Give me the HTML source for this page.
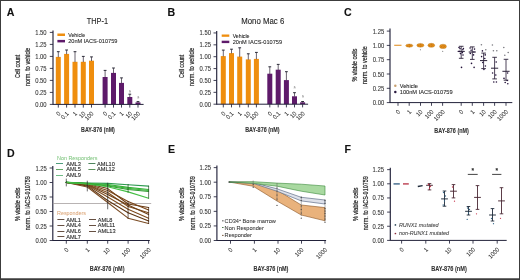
<!DOCTYPE html>
<html><head><meta charset="utf-8"><style>
html,body{margin:0;padding:0;background:#fff;}
#f{position:relative;width:520px;height:280px;overflow:hidden;background:#fff;}
svg{position:absolute;left:0;top:0;will-change:transform;filter:blur(0.25px);}
svg text{font-family:"Liberation Sans", sans-serif;}
</style></head><body><div id="f">
<svg width="520" height="280" viewBox="0 0 520 280">
<rect x="0" y="0" width="520" height="280" fill="#fff"/>
<text x="6.70" y="15.90" font-size="10.6" text-anchor="start" font-weight="bold" fill="#111" stroke="#111" stroke-width="0.1">A</text>
<text x="97.45" y="23.75" font-size="8.3" text-anchor="middle" font-weight="normal" fill="#262626" stroke="#262626" stroke-width="0.12" textLength="21.3" lengthAdjust="spacingAndGlyphs">THP-1</text>
<line x1="53.00" y1="30.40" x2="53.00" y2="104.85" stroke="#22223a" stroke-width="1.15"/>
<line x1="49.80" y1="104.40" x2="53.00" y2="104.40" stroke="#22223a" stroke-width="0.85"/>
<text x="46.60" y="106.90" font-size="6.5" text-anchor="end" font-weight="normal" fill="#333" stroke="#333" stroke-width="0.08" textLength="11.39" lengthAdjust="spacingAndGlyphs">0.00</text>
<line x1="49.80" y1="92.40" x2="53.00" y2="92.40" stroke="#22223a" stroke-width="0.85"/>
<text x="46.60" y="94.90" font-size="6.5" text-anchor="end" font-weight="normal" fill="#333" stroke="#333" stroke-width="0.08" textLength="11.39" lengthAdjust="spacingAndGlyphs">0.25</text>
<line x1="49.80" y1="80.40" x2="53.00" y2="80.40" stroke="#22223a" stroke-width="0.85"/>
<text x="46.60" y="82.90" font-size="6.5" text-anchor="end" font-weight="normal" fill="#333" stroke="#333" stroke-width="0.08" textLength="11.39" lengthAdjust="spacingAndGlyphs">0.50</text>
<line x1="49.80" y1="68.40" x2="53.00" y2="68.40" stroke="#22223a" stroke-width="0.85"/>
<text x="46.60" y="70.90" font-size="6.5" text-anchor="end" font-weight="normal" fill="#333" stroke="#333" stroke-width="0.08" textLength="11.39" lengthAdjust="spacingAndGlyphs">0.75</text>
<line x1="49.80" y1="56.40" x2="53.00" y2="56.40" stroke="#22223a" stroke-width="0.85"/>
<text x="46.60" y="58.90" font-size="6.5" text-anchor="end" font-weight="normal" fill="#333" stroke="#333" stroke-width="0.08" textLength="11.39" lengthAdjust="spacingAndGlyphs">1.00</text>
<line x1="49.80" y1="44.40" x2="53.00" y2="44.40" stroke="#22223a" stroke-width="0.85"/>
<text x="46.60" y="46.90" font-size="6.5" text-anchor="end" font-weight="normal" fill="#333" stroke="#333" stroke-width="0.08" textLength="11.39" lengthAdjust="spacingAndGlyphs">1.25</text>
<line x1="49.80" y1="32.40" x2="53.00" y2="32.40" stroke="#22223a" stroke-width="0.85"/>
<text x="46.60" y="34.90" font-size="6.5" text-anchor="end" font-weight="normal" fill="#333" stroke="#333" stroke-width="0.08" textLength="11.39" lengthAdjust="spacingAndGlyphs">1.50</text>
<rect x="55.80" y="56.90" width="5.00" height="47.50" fill="#EF8E0E"/>
<line x1="58.30" y1="51.70" x2="58.30" y2="57.20" stroke="#3a3040" stroke-width="0.75"/>
<line x1="56.90" y1="51.70" x2="59.70" y2="51.70" stroke="#2c2c38" stroke-width="1.0"/>
<rect x="64.10" y="53.90" width="5.00" height="50.50" fill="#EF8E0E"/>
<line x1="66.60" y1="50.00" x2="66.60" y2="54.20" stroke="#3a3040" stroke-width="0.75"/>
<line x1="65.20" y1="50.00" x2="68.00" y2="50.00" stroke="#2c2c38" stroke-width="1.0"/>
<rect x="72.50" y="61.80" width="5.00" height="42.60" fill="#EF8E0E"/>
<line x1="75.00" y1="51.70" x2="75.00" y2="62.10" stroke="#3a3040" stroke-width="0.75"/>
<line x1="73.60" y1="51.70" x2="76.40" y2="51.70" stroke="#2c2c38" stroke-width="1.0"/>
<rect x="80.80" y="61.80" width="5.00" height="42.60" fill="#EF8E0E"/>
<line x1="83.30" y1="56.40" x2="83.30" y2="62.10" stroke="#3a3040" stroke-width="0.75"/>
<line x1="81.90" y1="56.40" x2="84.70" y2="56.40" stroke="#2c2c38" stroke-width="1.0"/>
<rect x="89.00" y="60.70" width="5.00" height="43.70" fill="#EF8E0E"/>
<line x1="91.50" y1="56.90" x2="91.50" y2="61.00" stroke="#3a3040" stroke-width="0.75"/>
<line x1="90.10" y1="56.90" x2="92.90" y2="56.90" stroke="#2c2c38" stroke-width="1.0"/>
<rect x="102.60" y="77.00" width="5.00" height="27.40" fill="#5E1A6A"/>
<line x1="105.10" y1="70.40" x2="105.10" y2="77.30" stroke="#3a3040" stroke-width="0.75"/>
<line x1="103.70" y1="70.40" x2="106.50" y2="70.40" stroke="#2c2c38" stroke-width="1.0"/>
<rect x="111.00" y="72.90" width="5.00" height="31.50" fill="#5E1A6A"/>
<line x1="113.50" y1="68.00" x2="113.50" y2="73.20" stroke="#3a3040" stroke-width="0.75"/>
<line x1="112.10" y1="68.00" x2="114.90" y2="68.00" stroke="#2c2c38" stroke-width="1.0"/>
<rect x="119.00" y="82.90" width="5.00" height="21.50" fill="#5E1A6A"/>
<line x1="121.50" y1="77.90" x2="121.50" y2="83.20" stroke="#3a3040" stroke-width="0.75"/>
<line x1="120.10" y1="77.90" x2="122.90" y2="77.90" stroke="#2c2c38" stroke-width="1.0"/>
<rect x="127.30" y="97.00" width="5.00" height="7.40" fill="#5E1A6A"/>
<line x1="129.80" y1="94.20" x2="129.80" y2="97.30" stroke="#3a3040" stroke-width="0.75"/>
<line x1="128.40" y1="94.20" x2="131.20" y2="94.20" stroke="#2c2c38" stroke-width="1.0"/>
<rect x="135.50" y="102.40" width="5.00" height="2.00" fill="#5E1A6A"/>
<line x1="138.00" y1="101.60" x2="138.00" y2="102.70" stroke="#3a3040" stroke-width="0.75"/>
<line x1="136.60" y1="101.60" x2="139.40" y2="101.60" stroke="#2c2c38" stroke-width="1.0"/>
<line x1="53.00" y1="104.40" x2="143.60" y2="104.40" stroke="#22223a" stroke-width="1.0"/>
<line x1="58.30" y1="104.40" x2="58.30" y2="107.60" stroke="#22223a" stroke-width="0.85"/>
<text x="60.90" y="114.10" font-size="6.1" text-anchor="end" font-weight="normal" fill="#2a2a2a" stroke="#2a2a2a" stroke-width="0.04" transform="rotate(-45 60.90 114.10)" textLength="3.17" lengthAdjust="spacingAndGlyphs">0</text>
<line x1="66.60" y1="104.40" x2="66.60" y2="107.60" stroke="#22223a" stroke-width="0.85"/>
<text x="69.20" y="114.10" font-size="6.1" text-anchor="end" font-weight="normal" fill="#2a2a2a" stroke="#2a2a2a" stroke-width="0.04" transform="rotate(-45 69.20 114.10)" textLength="7.92" lengthAdjust="spacingAndGlyphs">0.1</text>
<line x1="75.00" y1="104.40" x2="75.00" y2="107.60" stroke="#22223a" stroke-width="0.85"/>
<text x="77.60" y="114.10" font-size="6.1" text-anchor="end" font-weight="normal" fill="#2a2a2a" stroke="#2a2a2a" stroke-width="0.04" transform="rotate(-45 77.60 114.10)" textLength="3.17" lengthAdjust="spacingAndGlyphs">1</text>
<line x1="83.30" y1="104.40" x2="83.30" y2="107.60" stroke="#22223a" stroke-width="0.85"/>
<text x="85.90" y="114.10" font-size="6.1" text-anchor="end" font-weight="normal" fill="#2a2a2a" stroke="#2a2a2a" stroke-width="0.04" transform="rotate(-45 85.90 114.10)" textLength="6.34" lengthAdjust="spacingAndGlyphs">10</text>
<line x1="91.50" y1="104.40" x2="91.50" y2="107.60" stroke="#22223a" stroke-width="0.85"/>
<text x="94.10" y="114.10" font-size="6.1" text-anchor="end" font-weight="normal" fill="#2a2a2a" stroke="#2a2a2a" stroke-width="0.04" transform="rotate(-45 94.10 114.10)" textLength="9.51" lengthAdjust="spacingAndGlyphs">100</text>
<line x1="105.10" y1="104.40" x2="105.10" y2="107.60" stroke="#22223a" stroke-width="0.85"/>
<text x="107.70" y="114.10" font-size="6.1" text-anchor="end" font-weight="normal" fill="#2a2a2a" stroke="#2a2a2a" stroke-width="0.04" transform="rotate(-45 107.70 114.10)" textLength="3.17" lengthAdjust="spacingAndGlyphs">0</text>
<line x1="113.50" y1="104.40" x2="113.50" y2="107.60" stroke="#22223a" stroke-width="0.85"/>
<text x="116.10" y="114.10" font-size="6.1" text-anchor="end" font-weight="normal" fill="#2a2a2a" stroke="#2a2a2a" stroke-width="0.04" transform="rotate(-45 116.10 114.10)" textLength="7.92" lengthAdjust="spacingAndGlyphs">0.1</text>
<line x1="121.50" y1="104.40" x2="121.50" y2="107.60" stroke="#22223a" stroke-width="0.85"/>
<text x="124.10" y="114.10" font-size="6.1" text-anchor="end" font-weight="normal" fill="#2a2a2a" stroke="#2a2a2a" stroke-width="0.04" transform="rotate(-45 124.10 114.10)" textLength="3.17" lengthAdjust="spacingAndGlyphs">1</text>
<line x1="129.80" y1="104.40" x2="129.80" y2="107.60" stroke="#22223a" stroke-width="0.85"/>
<text x="132.40" y="114.10" font-size="6.1" text-anchor="end" font-weight="normal" fill="#2a2a2a" stroke="#2a2a2a" stroke-width="0.04" transform="rotate(-45 132.40 114.10)" textLength="6.34" lengthAdjust="spacingAndGlyphs">10</text>
<line x1="138.00" y1="104.40" x2="138.00" y2="107.60" stroke="#22223a" stroke-width="0.85"/>
<text x="140.60" y="114.10" font-size="6.1" text-anchor="end" font-weight="normal" fill="#2a2a2a" stroke="#2a2a2a" stroke-width="0.04" transform="rotate(-45 140.60 114.10)" textLength="9.51" lengthAdjust="spacingAndGlyphs">100</text>
<text x="129.90" y="92.60" font-size="3.8" text-anchor="middle" font-weight="normal" fill="#777">§</text>
<text x="138.30" y="98.60" font-size="3.8" text-anchor="middle" font-weight="normal" fill="#777">§</text>
<rect x="57.40" y="33.50" width="7.60" height="2.50" fill="#EF8E0E"/>
<rect x="57.40" y="39.90" width="7.60" height="2.50" fill="#5E1A6A"/>
<text x="68.20" y="36.90" font-size="5.3" text-anchor="start" font-weight="normal" fill="#262626" stroke="#262626" stroke-width="0.08">Vehicle</text>
<text x="68.20" y="43.00" font-size="5.3" text-anchor="start" font-weight="normal" fill="#262626" stroke="#262626" stroke-width="0.08" textLength="49.2" lengthAdjust="spacingAndGlyphs">20nM IACS-010759</text>
<text x="20.00" y="66.45" font-size="7.2" text-anchor="middle" font-weight="normal" fill="#262626" stroke="#262626" stroke-width="0.22" transform="rotate(-90 20.00 66.45)" textLength="23.3" lengthAdjust="spacingAndGlyphs">Cell count</text>
<text x="29.90" y="66.85" font-size="7.2" text-anchor="middle" font-weight="normal" fill="#262626" stroke="#262626" stroke-width="0.22" transform="rotate(-90 29.90 66.85)" textLength="38.5" lengthAdjust="spacingAndGlyphs">norm. to vehicle</text>
<text x="98.00" y="132.20" font-size="6.9" text-anchor="middle" font-weight="bold" fill="#333" stroke="#333" stroke-width="0.1" textLength="33.8" lengthAdjust="spacingAndGlyphs">BAY-876 (nM)</text>
<text x="167.40" y="15.90" font-size="10.6" text-anchor="start" font-weight="bold" fill="#111" stroke="#111" stroke-width="0.1">B</text>
<text x="262.75" y="24.30" font-size="8.3" text-anchor="middle" font-weight="normal" fill="#262626" stroke="#262626" stroke-width="0.12" textLength="43.0" lengthAdjust="spacingAndGlyphs">Mono Mac 6</text>
<line x1="216.70" y1="30.95" x2="216.70" y2="104.65" stroke="#22223a" stroke-width="1.15"/>
<line x1="213.50" y1="104.20" x2="216.70" y2="104.20" stroke="#22223a" stroke-width="0.85"/>
<text x="210.90" y="106.70" font-size="6.5" text-anchor="end" font-weight="normal" fill="#333" stroke="#333" stroke-width="0.08" textLength="11.39" lengthAdjust="spacingAndGlyphs">0.00</text>
<line x1="213.50" y1="92.33" x2="216.70" y2="92.33" stroke="#22223a" stroke-width="0.85"/>
<text x="210.90" y="94.83" font-size="6.5" text-anchor="end" font-weight="normal" fill="#333" stroke="#333" stroke-width="0.08" textLength="11.39" lengthAdjust="spacingAndGlyphs">0.25</text>
<line x1="213.50" y1="80.45" x2="216.70" y2="80.45" stroke="#22223a" stroke-width="0.85"/>
<text x="210.90" y="82.95" font-size="6.5" text-anchor="end" font-weight="normal" fill="#333" stroke="#333" stroke-width="0.08" textLength="11.39" lengthAdjust="spacingAndGlyphs">0.50</text>
<line x1="213.50" y1="68.58" x2="216.70" y2="68.58" stroke="#22223a" stroke-width="0.85"/>
<text x="210.90" y="71.08" font-size="6.5" text-anchor="end" font-weight="normal" fill="#333" stroke="#333" stroke-width="0.08" textLength="11.39" lengthAdjust="spacingAndGlyphs">0.75</text>
<line x1="213.50" y1="56.70" x2="216.70" y2="56.70" stroke="#22223a" stroke-width="0.85"/>
<text x="210.90" y="59.20" font-size="6.5" text-anchor="end" font-weight="normal" fill="#333" stroke="#333" stroke-width="0.08" textLength="11.39" lengthAdjust="spacingAndGlyphs">1.00</text>
<line x1="213.50" y1="44.83" x2="216.70" y2="44.83" stroke="#22223a" stroke-width="0.85"/>
<text x="210.90" y="47.33" font-size="6.5" text-anchor="end" font-weight="normal" fill="#333" stroke="#333" stroke-width="0.08" textLength="11.39" lengthAdjust="spacingAndGlyphs">1.25</text>
<line x1="213.50" y1="32.95" x2="216.70" y2="32.95" stroke="#22223a" stroke-width="0.85"/>
<text x="210.90" y="35.45" font-size="6.5" text-anchor="end" font-weight="normal" fill="#333" stroke="#333" stroke-width="0.08" textLength="11.39" lengthAdjust="spacingAndGlyphs">1.50</text>
<rect x="220.80" y="56.10" width="5.00" height="48.10" fill="#EF8E0E"/>
<line x1="223.30" y1="50.10" x2="223.30" y2="56.40" stroke="#3a3040" stroke-width="0.75"/>
<line x1="221.90" y1="50.10" x2="224.70" y2="50.10" stroke="#2c2c38" stroke-width="1.0"/>
<rect x="229.00" y="53.10" width="5.00" height="51.10" fill="#EF8E0E"/>
<line x1="231.50" y1="49.20" x2="231.50" y2="53.40" stroke="#3a3040" stroke-width="0.75"/>
<line x1="230.10" y1="49.20" x2="232.90" y2="49.20" stroke="#2c2c38" stroke-width="1.0"/>
<rect x="237.20" y="56.60" width="5.00" height="47.60" fill="#EF8E0E"/>
<line x1="239.70" y1="47.80" x2="239.70" y2="56.90" stroke="#3a3040" stroke-width="0.75"/>
<line x1="238.30" y1="47.80" x2="241.10" y2="47.80" stroke="#2c2c38" stroke-width="1.0"/>
<rect x="245.80" y="59.40" width="5.00" height="44.80" fill="#EF8E0E"/>
<line x1="248.30" y1="53.80" x2="248.30" y2="59.70" stroke="#3a3040" stroke-width="0.75"/>
<line x1="246.90" y1="53.80" x2="249.70" y2="53.80" stroke="#2c2c38" stroke-width="1.0"/>
<rect x="253.90" y="58.90" width="5.00" height="45.30" fill="#EF8E0E"/>
<line x1="256.40" y1="52.40" x2="256.40" y2="59.20" stroke="#3a3040" stroke-width="0.75"/>
<line x1="255.00" y1="52.40" x2="257.80" y2="52.40" stroke="#2c2c38" stroke-width="1.0"/>
<rect x="267.30" y="73.70" width="5.00" height="30.50" fill="#5E1A6A"/>
<line x1="269.80" y1="66.80" x2="269.80" y2="74.00" stroke="#3a3040" stroke-width="0.75"/>
<line x1="268.40" y1="66.80" x2="271.20" y2="66.80" stroke="#2c2c38" stroke-width="1.0"/>
<rect x="275.70" y="69.70" width="5.00" height="34.50" fill="#5E1A6A"/>
<line x1="278.20" y1="64.40" x2="278.20" y2="70.00" stroke="#3a3040" stroke-width="0.75"/>
<line x1="276.80" y1="64.40" x2="279.60" y2="64.40" stroke="#2c2c38" stroke-width="1.0"/>
<rect x="283.90" y="80.10" width="5.00" height="24.10" fill="#5E1A6A"/>
<line x1="286.40" y1="71.70" x2="286.40" y2="80.40" stroke="#3a3040" stroke-width="0.75"/>
<line x1="285.00" y1="71.70" x2="287.80" y2="71.70" stroke="#2c2c38" stroke-width="1.0"/>
<rect x="292.00" y="96.30" width="5.00" height="7.90" fill="#5E1A6A"/>
<line x1="294.50" y1="92.70" x2="294.50" y2="96.60" stroke="#3a3040" stroke-width="0.75"/>
<line x1="293.10" y1="92.70" x2="295.90" y2="92.70" stroke="#2c2c38" stroke-width="1.0"/>
<rect x="300.10" y="102.30" width="5.00" height="1.90" fill="#5E1A6A"/>
<line x1="302.60" y1="101.50" x2="302.60" y2="102.60" stroke="#3a3040" stroke-width="0.75"/>
<line x1="301.20" y1="101.50" x2="304.00" y2="101.50" stroke="#2c2c38" stroke-width="1.0"/>
<line x1="216.70" y1="104.20" x2="308.10" y2="104.20" stroke="#22223a" stroke-width="1.0"/>
<line x1="223.30" y1="104.20" x2="223.30" y2="107.40" stroke="#22223a" stroke-width="0.85"/>
<text x="225.90" y="113.90" font-size="6.1" text-anchor="end" font-weight="normal" fill="#2a2a2a" stroke="#2a2a2a" stroke-width="0.04" transform="rotate(-45 225.90 113.90)" textLength="3.17" lengthAdjust="spacingAndGlyphs">0</text>
<line x1="231.50" y1="104.20" x2="231.50" y2="107.40" stroke="#22223a" stroke-width="0.85"/>
<text x="234.10" y="113.90" font-size="6.1" text-anchor="end" font-weight="normal" fill="#2a2a2a" stroke="#2a2a2a" stroke-width="0.04" transform="rotate(-45 234.10 113.90)" textLength="7.92" lengthAdjust="spacingAndGlyphs">0.1</text>
<line x1="239.70" y1="104.20" x2="239.70" y2="107.40" stroke="#22223a" stroke-width="0.85"/>
<text x="242.30" y="113.90" font-size="6.1" text-anchor="end" font-weight="normal" fill="#2a2a2a" stroke="#2a2a2a" stroke-width="0.04" transform="rotate(-45 242.30 113.90)" textLength="3.17" lengthAdjust="spacingAndGlyphs">1</text>
<line x1="248.30" y1="104.20" x2="248.30" y2="107.40" stroke="#22223a" stroke-width="0.85"/>
<text x="250.90" y="113.90" font-size="6.1" text-anchor="end" font-weight="normal" fill="#2a2a2a" stroke="#2a2a2a" stroke-width="0.04" transform="rotate(-45 250.90 113.90)" textLength="6.34" lengthAdjust="spacingAndGlyphs">10</text>
<line x1="256.40" y1="104.20" x2="256.40" y2="107.40" stroke="#22223a" stroke-width="0.85"/>
<text x="259.00" y="113.90" font-size="6.1" text-anchor="end" font-weight="normal" fill="#2a2a2a" stroke="#2a2a2a" stroke-width="0.04" transform="rotate(-45 259.00 113.90)" textLength="9.51" lengthAdjust="spacingAndGlyphs">100</text>
<line x1="269.80" y1="104.20" x2="269.80" y2="107.40" stroke="#22223a" stroke-width="0.85"/>
<text x="272.40" y="113.90" font-size="6.1" text-anchor="end" font-weight="normal" fill="#2a2a2a" stroke="#2a2a2a" stroke-width="0.04" transform="rotate(-45 272.40 113.90)" textLength="3.17" lengthAdjust="spacingAndGlyphs">0</text>
<line x1="278.20" y1="104.20" x2="278.20" y2="107.40" stroke="#22223a" stroke-width="0.85"/>
<text x="280.80" y="113.90" font-size="6.1" text-anchor="end" font-weight="normal" fill="#2a2a2a" stroke="#2a2a2a" stroke-width="0.04" transform="rotate(-45 280.80 113.90)" textLength="7.92" lengthAdjust="spacingAndGlyphs">0.1</text>
<line x1="286.40" y1="104.20" x2="286.40" y2="107.40" stroke="#22223a" stroke-width="0.85"/>
<text x="289.00" y="113.90" font-size="6.1" text-anchor="end" font-weight="normal" fill="#2a2a2a" stroke="#2a2a2a" stroke-width="0.04" transform="rotate(-45 289.00 113.90)" textLength="3.17" lengthAdjust="spacingAndGlyphs">1</text>
<line x1="294.50" y1="104.20" x2="294.50" y2="107.40" stroke="#22223a" stroke-width="0.85"/>
<text x="297.10" y="113.90" font-size="6.1" text-anchor="end" font-weight="normal" fill="#2a2a2a" stroke="#2a2a2a" stroke-width="0.04" transform="rotate(-45 297.10 113.90)" textLength="6.34" lengthAdjust="spacingAndGlyphs">10</text>
<line x1="302.60" y1="104.20" x2="302.60" y2="107.40" stroke="#22223a" stroke-width="0.85"/>
<text x="305.20" y="113.90" font-size="6.1" text-anchor="end" font-weight="normal" fill="#2a2a2a" stroke="#2a2a2a" stroke-width="0.04" transform="rotate(-45 305.20 113.90)" textLength="9.51" lengthAdjust="spacingAndGlyphs">100</text>
<text x="294.60" y="88.90" font-size="3.8" text-anchor="middle" font-weight="normal" fill="#777">§</text>
<text x="302.70" y="97.60" font-size="3.8" text-anchor="middle" font-weight="normal" fill="#777">§</text>
<rect x="221.70" y="34.50" width="7.60" height="2.30" fill="#EF8E0E"/>
<rect x="221.70" y="40.70" width="7.60" height="2.40" fill="#5E1A6A"/>
<text x="232.70" y="37.60" font-size="5.2" text-anchor="start" font-weight="normal" fill="#262626" stroke="#262626" stroke-width="0.08">Vehicle</text>
<text x="232.70" y="43.70" font-size="5.3" text-anchor="start" font-weight="normal" fill="#262626" stroke="#262626" stroke-width="0.08" textLength="49.4" lengthAdjust="spacingAndGlyphs">20nM IACS-010759</text>
<text x="183.80" y="66.45" font-size="7.2" text-anchor="middle" font-weight="normal" fill="#262626" stroke="#262626" stroke-width="0.22" transform="rotate(-90 183.80 66.45)" textLength="23.3" lengthAdjust="spacingAndGlyphs">Cell count</text>
<text x="194.10" y="66.85" font-size="7.2" text-anchor="middle" font-weight="normal" fill="#262626" stroke="#262626" stroke-width="0.22" transform="rotate(-90 194.10 66.85)" textLength="38.5" lengthAdjust="spacingAndGlyphs">norm. to vehicle</text>
<text x="262.40" y="132.40" font-size="6.9" text-anchor="middle" font-weight="bold" fill="#333" stroke="#333" stroke-width="0.1" textLength="34.5" lengthAdjust="spacingAndGlyphs">BAY-876 (nM)</text>
<text x="344.00" y="15.90" font-size="10.6" text-anchor="start" font-weight="bold" fill="#111" stroke="#111" stroke-width="0.1">C</text>
<line x1="390.00" y1="28.60" x2="390.00" y2="103.05" stroke="#22223a" stroke-width="1.15"/>
<line x1="386.80" y1="102.60" x2="390.00" y2="102.60" stroke="#22223a" stroke-width="0.85"/>
<text x="384.20" y="105.10" font-size="6.5" text-anchor="end" font-weight="normal" fill="#333" stroke="#333" stroke-width="0.08" textLength="11.39" lengthAdjust="spacingAndGlyphs">0.00</text>
<line x1="386.80" y1="88.30" x2="390.00" y2="88.30" stroke="#22223a" stroke-width="0.85"/>
<text x="384.20" y="90.80" font-size="6.5" text-anchor="end" font-weight="normal" fill="#333" stroke="#333" stroke-width="0.08" textLength="11.39" lengthAdjust="spacingAndGlyphs">0.25</text>
<line x1="386.80" y1="74.00" x2="390.00" y2="74.00" stroke="#22223a" stroke-width="0.85"/>
<text x="384.20" y="76.50" font-size="6.5" text-anchor="end" font-weight="normal" fill="#333" stroke="#333" stroke-width="0.08" textLength="11.39" lengthAdjust="spacingAndGlyphs">0.50</text>
<line x1="386.80" y1="59.70" x2="390.00" y2="59.70" stroke="#22223a" stroke-width="0.85"/>
<text x="384.20" y="62.20" font-size="6.5" text-anchor="end" font-weight="normal" fill="#333" stroke="#333" stroke-width="0.08" textLength="11.39" lengthAdjust="spacingAndGlyphs">0.75</text>
<line x1="386.80" y1="45.40" x2="390.00" y2="45.40" stroke="#22223a" stroke-width="0.85"/>
<text x="384.20" y="47.90" font-size="6.5" text-anchor="end" font-weight="normal" fill="#333" stroke="#333" stroke-width="0.08" textLength="11.39" lengthAdjust="spacingAndGlyphs">1.00</text>
<line x1="386.80" y1="31.10" x2="390.00" y2="31.10" stroke="#22223a" stroke-width="0.85"/>
<text x="384.20" y="33.60" font-size="6.5" text-anchor="end" font-weight="normal" fill="#333" stroke="#333" stroke-width="0.08" textLength="11.39" lengthAdjust="spacingAndGlyphs">1.25</text>
<line x1="390.00" y1="102.60" x2="512.30" y2="102.60" stroke="#22223a" stroke-width="1.0"/>
<line x1="398.00" y1="102.60" x2="398.00" y2="105.80" stroke="#22223a" stroke-width="0.85"/>
<text x="400.60" y="112.30" font-size="6.1" text-anchor="end" font-weight="normal" fill="#2a2a2a" stroke="#2a2a2a" stroke-width="0.04" transform="rotate(-45 400.60 112.30)" textLength="3.17" lengthAdjust="spacingAndGlyphs">0</text>
<line x1="409.20" y1="102.60" x2="409.20" y2="105.80" stroke="#22223a" stroke-width="0.85"/>
<text x="411.80" y="112.30" font-size="6.1" text-anchor="end" font-weight="normal" fill="#2a2a2a" stroke="#2a2a2a" stroke-width="0.04" transform="rotate(-45 411.80 112.30)" textLength="3.17" lengthAdjust="spacingAndGlyphs">1</text>
<line x1="420.50" y1="102.60" x2="420.50" y2="105.80" stroke="#22223a" stroke-width="0.85"/>
<text x="423.10" y="112.30" font-size="6.1" text-anchor="end" font-weight="normal" fill="#2a2a2a" stroke="#2a2a2a" stroke-width="0.04" transform="rotate(-45 423.10 112.30)" textLength="6.34" lengthAdjust="spacingAndGlyphs">10</text>
<line x1="431.50" y1="102.60" x2="431.50" y2="105.80" stroke="#22223a" stroke-width="0.85"/>
<text x="434.10" y="112.30" font-size="6.1" text-anchor="end" font-weight="normal" fill="#2a2a2a" stroke="#2a2a2a" stroke-width="0.04" transform="rotate(-45 434.10 112.30)" textLength="9.51" lengthAdjust="spacingAndGlyphs">100</text>
<line x1="442.60" y1="102.60" x2="442.60" y2="105.80" stroke="#22223a" stroke-width="0.85"/>
<text x="445.20" y="112.30" font-size="6.1" text-anchor="end" font-weight="normal" fill="#2a2a2a" stroke="#2a2a2a" stroke-width="0.04" transform="rotate(-45 445.20 112.30)" textLength="12.68" lengthAdjust="spacingAndGlyphs">1000</text>
<line x1="461.20" y1="102.60" x2="461.20" y2="105.80" stroke="#22223a" stroke-width="0.85"/>
<text x="463.80" y="112.30" font-size="6.1" text-anchor="end" font-weight="normal" fill="#2a2a2a" stroke="#2a2a2a" stroke-width="0.04" transform="rotate(-45 463.80 112.30)" textLength="3.17" lengthAdjust="spacingAndGlyphs">0</text>
<line x1="472.30" y1="102.60" x2="472.30" y2="105.80" stroke="#22223a" stroke-width="0.85"/>
<text x="474.90" y="112.30" font-size="6.1" text-anchor="end" font-weight="normal" fill="#2a2a2a" stroke="#2a2a2a" stroke-width="0.04" transform="rotate(-45 474.90 112.30)" textLength="3.17" lengthAdjust="spacingAndGlyphs">1</text>
<line x1="483.60" y1="102.60" x2="483.60" y2="105.80" stroke="#22223a" stroke-width="0.85"/>
<text x="486.20" y="112.30" font-size="6.1" text-anchor="end" font-weight="normal" fill="#2a2a2a" stroke="#2a2a2a" stroke-width="0.04" transform="rotate(-45 486.20 112.30)" textLength="6.34" lengthAdjust="spacingAndGlyphs">10</text>
<line x1="494.60" y1="102.60" x2="494.60" y2="105.80" stroke="#22223a" stroke-width="0.85"/>
<text x="497.20" y="112.30" font-size="6.1" text-anchor="end" font-weight="normal" fill="#2a2a2a" stroke="#2a2a2a" stroke-width="0.04" transform="rotate(-45 497.20 112.30)" textLength="9.51" lengthAdjust="spacingAndGlyphs">100</text>
<line x1="506.00" y1="102.60" x2="506.00" y2="105.80" stroke="#22223a" stroke-width="0.85"/>
<text x="508.60" y="112.30" font-size="6.1" text-anchor="end" font-weight="normal" fill="#2a2a2a" stroke="#2a2a2a" stroke-width="0.04" transform="rotate(-45 508.60 112.30)" textLength="12.68" lengthAdjust="spacingAndGlyphs">1000</text>
<line x1="394.20" y1="45.30" x2="401.50" y2="45.30" stroke="#E49A3A" stroke-width="1.2"/>
<ellipse cx="409.30" cy="45.60" rx="3.6" ry="1.6" fill="#E8921A" stroke="#A86812" stroke-width="0.35"/>
<circle cx="407.70" cy="45.90" r="0.7" fill="#C97814"/>
<circle cx="410.80" cy="45.40" r="0.7" fill="#C97814"/>
<circle cx="409.30" cy="44.80" r="0.7" fill="#C97814"/>
<circle cx="409.50" cy="46.50" r="0.7" fill="#C97814"/>
<ellipse cx="420.40" cy="45.30" rx="3.6" ry="1.9" fill="#E8921A" stroke="#A86812" stroke-width="0.35"/>
<circle cx="418.80" cy="45.60" r="0.7" fill="#C97814"/>
<circle cx="421.90" cy="45.10" r="0.7" fill="#C97814"/>
<circle cx="420.40" cy="44.50" r="0.7" fill="#C97814"/>
<circle cx="420.60" cy="46.20" r="0.7" fill="#C97814"/>
<ellipse cx="431.30" cy="45.30" rx="3.4" ry="2.0" fill="#E8921A" stroke="#A86812" stroke-width="0.35"/>
<circle cx="429.70" cy="45.60" r="0.7" fill="#C97814"/>
<circle cx="432.80" cy="45.10" r="0.7" fill="#C97814"/>
<circle cx="431.30" cy="44.50" r="0.7" fill="#C97814"/>
<circle cx="431.50" cy="46.20" r="0.7" fill="#C97814"/>
<ellipse cx="443.00" cy="46.40" rx="3.4" ry="2.2" fill="#E8921A" stroke="#A86812" stroke-width="0.35"/>
<circle cx="441.40" cy="46.70" r="0.7" fill="#C97814"/>
<circle cx="444.50" cy="46.20" r="0.7" fill="#C97814"/>
<circle cx="443.00" cy="45.60" r="0.7" fill="#C97814"/>
<circle cx="443.20" cy="47.30" r="0.7" fill="#C97814"/>
<circle cx="420.40" cy="49.70" r="0.55" fill="#666"/>
<circle cx="442.70" cy="51.20" r="0.55" fill="#666"/>
<line x1="461.20" y1="46.30" x2="461.20" y2="58.30" stroke="#3a3048" stroke-width="0.9"/>
<line x1="458.90" y1="46.30" x2="463.50" y2="46.30" stroke="#2a2038" stroke-width="0.9"/>
<line x1="458.90" y1="58.30" x2="463.50" y2="58.30" stroke="#2a2038" stroke-width="0.9"/>
<line x1="457.60" y1="51.40" x2="464.80" y2="51.40" stroke="#2a2038" stroke-width="1.0"/>
<circle cx="459.00" cy="47.50" r="0.8" fill="#24123a"/>
<circle cx="463.40" cy="48.60" r="0.8" fill="#24123a"/>
<circle cx="460.00" cy="48.60" r="0.8" fill="#24123a"/>
<circle cx="462.80" cy="49.80" r="0.8" fill="#24123a"/>
<circle cx="459.20" cy="51.40" r="0.8" fill="#24123a"/>
<circle cx="462.40" cy="52.60" r="0.8" fill="#24123a"/>
<circle cx="460.40" cy="53.60" r="0.8" fill="#24123a"/>
<circle cx="463.00" cy="55.00" r="0.8" fill="#24123a"/>
<circle cx="461.50" cy="67.40" r="0.8" fill="#24123a"/>
<line x1="472.30" y1="46.90" x2="472.30" y2="59.40" stroke="#3a3048" stroke-width="0.9"/>
<line x1="470.00" y1="46.90" x2="474.60" y2="46.90" stroke="#2a2038" stroke-width="0.9"/>
<line x1="470.00" y1="59.40" x2="474.60" y2="59.40" stroke="#2a2038" stroke-width="0.9"/>
<line x1="468.70" y1="52.00" x2="475.90" y2="52.00" stroke="#2a2038" stroke-width="1.0"/>
<circle cx="470.10" cy="48.00" r="0.8" fill="#24123a"/>
<circle cx="474.50" cy="49.10" r="0.8" fill="#24123a"/>
<circle cx="471.10" cy="50.30" r="0.8" fill="#24123a"/>
<circle cx="473.90" cy="52.00" r="0.8" fill="#24123a"/>
<circle cx="470.30" cy="53.40" r="0.8" fill="#24123a"/>
<circle cx="473.50" cy="54.90" r="0.8" fill="#24123a"/>
<circle cx="471.50" cy="63.40" r="0.8" fill="#24123a"/>
<circle cx="474.10" cy="67.40" r="0.8" fill="#24123a"/>
<line x1="483.60" y1="53.10" x2="483.60" y2="68.60" stroke="#3a3048" stroke-width="0.9"/>
<line x1="481.30" y1="53.10" x2="485.90" y2="53.10" stroke="#2a2038" stroke-width="0.9"/>
<line x1="481.30" y1="68.60" x2="485.90" y2="68.60" stroke="#2a2038" stroke-width="0.9"/>
<line x1="480.00" y1="60.60" x2="487.20" y2="60.60" stroke="#2a2038" stroke-width="1.0"/>
<circle cx="481.40" cy="44.80" r="0.8" fill="#7a7a80"/>
<circle cx="485.80" cy="49.70" r="0.8" fill="#7a7a80"/>
<circle cx="482.40" cy="50.90" r="0.8" fill="#24123a"/>
<circle cx="485.20" cy="54.90" r="0.8" fill="#24123a"/>
<circle cx="481.60" cy="56.60" r="0.8" fill="#24123a"/>
<circle cx="484.80" cy="58.50" r="0.8" fill="#24123a"/>
<circle cx="482.80" cy="62.50" r="0.8" fill="#24123a"/>
<circle cx="485.40" cy="66.00" r="0.8" fill="#24123a"/>
<circle cx="483.90" cy="69.50" r="0.8" fill="#24123a"/>
<line x1="494.60" y1="57.30" x2="494.60" y2="78.90" stroke="#3a3048" stroke-width="0.9"/>
<line x1="492.30" y1="57.30" x2="496.90" y2="57.30" stroke="#2a2038" stroke-width="0.9"/>
<line x1="492.30" y1="78.90" x2="496.90" y2="78.90" stroke="#2a2038" stroke-width="0.9"/>
<line x1="491.00" y1="68.20" x2="498.20" y2="68.20" stroke="#2a2038" stroke-width="1.0"/>
<circle cx="492.40" cy="45.00" r="0.8" fill="#7a7a80"/>
<circle cx="496.80" cy="50.70" r="0.8" fill="#7a7a80"/>
<circle cx="493.40" cy="50.70" r="0.8" fill="#7a7a80"/>
<circle cx="496.20" cy="62.00" r="0.8" fill="#24123a"/>
<circle cx="492.60" cy="73.00" r="0.8" fill="#24123a"/>
<circle cx="495.80" cy="75.00" r="0.8" fill="#24123a"/>
<circle cx="493.80" cy="82.00" r="0.8" fill="#24123a"/>
<circle cx="496.40" cy="82.00" r="0.8" fill="#24123a"/>
<line x1="506.00" y1="59.30" x2="506.00" y2="80.20" stroke="#3a3048" stroke-width="0.9"/>
<line x1="503.70" y1="59.30" x2="508.30" y2="59.30" stroke="#2a2038" stroke-width="0.9"/>
<line x1="503.70" y1="80.20" x2="508.30" y2="80.20" stroke="#2a2038" stroke-width="0.9"/>
<line x1="502.40" y1="71.30" x2="509.60" y2="71.30" stroke="#2a2038" stroke-width="1.0"/>
<circle cx="503.80" cy="47.50" r="0.8" fill="#7a7a80"/>
<circle cx="508.20" cy="52.50" r="0.8" fill="#7a7a80"/>
<circle cx="504.80" cy="55.20" r="0.8" fill="#7a7a80"/>
<circle cx="507.60" cy="73.00" r="0.8" fill="#24123a"/>
<circle cx="504.00" cy="78.40" r="0.8" fill="#24123a"/>
<circle cx="507.20" cy="80.50" r="0.8" fill="#24123a"/>
<circle cx="505.20" cy="82.50" r="0.8" fill="#24123a"/>
<circle cx="507.80" cy="83.80" r="0.8" fill="#24123a"/>
<circle cx="395.30" cy="85.70" r="1.25" fill="#C8A070"/>
<circle cx="395.30" cy="91.90" r="1.25" fill="#2a1a40"/>
<text x="399.80" y="87.70" font-size="5.6" text-anchor="start" font-weight="normal" fill="#262626" stroke="#262626" stroke-width="0.08">Vehicle</text>
<text x="399.80" y="93.90" font-size="5.6" text-anchor="start" font-weight="normal" fill="#262626" stroke="#262626" stroke-width="0.08" textLength="52.8" lengthAdjust="spacingAndGlyphs">100nM IACS-010759</text>
<text x="357.30" y="65.00" font-size="7.2" text-anchor="middle" font-weight="normal" fill="#262626" stroke="#262626" stroke-width="0.22" transform="rotate(-90 357.30 65.00)" textLength="33.0" lengthAdjust="spacingAndGlyphs">% viable cells</text>
<text x="367.50" y="65.20" font-size="7.2" text-anchor="middle" font-weight="normal" fill="#262626" stroke="#262626" stroke-width="0.22" transform="rotate(-90 367.50 65.20)" textLength="37.8" lengthAdjust="spacingAndGlyphs">norm. to vehicle</text>
<text x="451.60" y="133.00" font-size="6.9" text-anchor="middle" font-weight="bold" fill="#333" stroke="#333" stroke-width="0.1" textLength="34.5" lengthAdjust="spacingAndGlyphs">BAY-876 (nM)</text>
<text x="7.10" y="156.60" font-size="10.6" text-anchor="start" font-weight="bold" fill="#111" stroke="#111" stroke-width="0.1">D</text>
<line x1="52.80" y1="166.00" x2="52.80" y2="240.95" stroke="#22223a" stroke-width="1.15"/>
<line x1="49.60" y1="240.50" x2="52.80" y2="240.50" stroke="#22223a" stroke-width="0.85"/>
<text x="46.80" y="243.00" font-size="6.5" text-anchor="end" font-weight="normal" fill="#333" stroke="#333" stroke-width="0.08" textLength="11.39" lengthAdjust="spacingAndGlyphs">0.00</text>
<line x1="49.60" y1="226.00" x2="52.80" y2="226.00" stroke="#22223a" stroke-width="0.85"/>
<text x="46.80" y="228.50" font-size="6.5" text-anchor="end" font-weight="normal" fill="#333" stroke="#333" stroke-width="0.08" textLength="11.39" lengthAdjust="spacingAndGlyphs">0.25</text>
<line x1="49.60" y1="211.50" x2="52.80" y2="211.50" stroke="#22223a" stroke-width="0.85"/>
<text x="46.80" y="214.00" font-size="6.5" text-anchor="end" font-weight="normal" fill="#333" stroke="#333" stroke-width="0.08" textLength="11.39" lengthAdjust="spacingAndGlyphs">0.50</text>
<line x1="49.60" y1="197.00" x2="52.80" y2="197.00" stroke="#22223a" stroke-width="0.85"/>
<text x="46.80" y="199.50" font-size="6.5" text-anchor="end" font-weight="normal" fill="#333" stroke="#333" stroke-width="0.08" textLength="11.39" lengthAdjust="spacingAndGlyphs">0.75</text>
<line x1="49.60" y1="182.50" x2="52.80" y2="182.50" stroke="#22223a" stroke-width="0.85"/>
<text x="46.80" y="185.00" font-size="6.5" text-anchor="end" font-weight="normal" fill="#333" stroke="#333" stroke-width="0.08" textLength="11.39" lengthAdjust="spacingAndGlyphs">1.00</text>
<line x1="49.60" y1="168.00" x2="52.80" y2="168.00" stroke="#22223a" stroke-width="0.85"/>
<text x="46.80" y="170.50" font-size="6.5" text-anchor="end" font-weight="normal" fill="#333" stroke="#333" stroke-width="0.08" textLength="11.39" lengthAdjust="spacingAndGlyphs">1.25</text>
<line x1="52.80" y1="240.50" x2="149.80" y2="240.50" stroke="#22223a" stroke-width="1.0"/>
<line x1="66.30" y1="240.50" x2="66.30" y2="243.70" stroke="#22223a" stroke-width="0.85"/>
<text x="68.90" y="250.20" font-size="6.1" text-anchor="end" font-weight="normal" fill="#2a2a2a" stroke="#2a2a2a" stroke-width="0.04" transform="rotate(-45 68.90 250.20)" textLength="3.17" lengthAdjust="spacingAndGlyphs">0</text>
<line x1="87.30" y1="240.50" x2="87.30" y2="243.70" stroke="#22223a" stroke-width="0.85"/>
<text x="89.90" y="250.20" font-size="6.1" text-anchor="end" font-weight="normal" fill="#2a2a2a" stroke="#2a2a2a" stroke-width="0.04" transform="rotate(-45 89.90 250.20)" textLength="3.17" lengthAdjust="spacingAndGlyphs">1</text>
<line x1="107.70" y1="240.50" x2="107.70" y2="243.70" stroke="#22223a" stroke-width="0.85"/>
<text x="110.30" y="250.20" font-size="6.1" text-anchor="end" font-weight="normal" fill="#2a2a2a" stroke="#2a2a2a" stroke-width="0.04" transform="rotate(-45 110.30 250.20)" textLength="6.34" lengthAdjust="spacingAndGlyphs">10</text>
<line x1="128.10" y1="240.50" x2="128.10" y2="243.70" stroke="#22223a" stroke-width="0.85"/>
<text x="130.70" y="250.20" font-size="6.1" text-anchor="end" font-weight="normal" fill="#2a2a2a" stroke="#2a2a2a" stroke-width="0.04" transform="rotate(-45 130.70 250.20)" textLength="9.51" lengthAdjust="spacingAndGlyphs">100</text>
<line x1="148.60" y1="240.50" x2="148.60" y2="243.70" stroke="#22223a" stroke-width="0.85"/>
<text x="151.20" y="250.20" font-size="6.1" text-anchor="end" font-weight="normal" fill="#2a2a2a" stroke="#2a2a2a" stroke-width="0.04" transform="rotate(-45 151.20 250.20)" textLength="12.68" lengthAdjust="spacingAndGlyphs">1000</text>
<line x1="52.80" y1="203.50" x2="151.20" y2="203.50" stroke="#a09a9a" stroke-width="0.75"/>
<polyline points="66.30,182.40 87.30,183.60 107.70,188.60 128.10,204.00 148.60,207.50" fill="none" stroke="#6B3A12" stroke-width="1.05" stroke-linejoin="round"/>
<circle cx="66.30" cy="182.40" r="0.55" fill="#6B3A12"/>
<circle cx="87.30" cy="183.60" r="0.55" fill="#6B3A12"/>
<circle cx="107.70" cy="188.60" r="0.55" fill="#6B3A12"/>
<circle cx="128.10" cy="204.00" r="0.55" fill="#6B3A12"/>
<circle cx="148.60" cy="207.50" r="0.55" fill="#6B3A12"/>
<polyline points="66.30,182.40 87.30,184.00 107.70,190.50 128.10,201.50 148.60,210.00" fill="none" stroke="#7A4518" stroke-width="1.05" stroke-linejoin="round"/>
<circle cx="66.30" cy="182.40" r="0.55" fill="#7A4518"/>
<circle cx="87.30" cy="184.00" r="0.55" fill="#7A4518"/>
<circle cx="107.70" cy="190.50" r="0.55" fill="#7A4518"/>
<circle cx="128.10" cy="201.50" r="0.55" fill="#7A4518"/>
<circle cx="148.60" cy="210.00" r="0.55" fill="#7A4518"/>
<polyline points="66.30,182.40 87.30,184.40 107.70,192.50 128.10,206.60 148.60,212.80" fill="none" stroke="#7E4A1C" stroke-width="1.05" stroke-linejoin="round"/>
<circle cx="66.30" cy="182.40" r="0.55" fill="#7E4A1C"/>
<circle cx="87.30" cy="184.40" r="0.55" fill="#7E4A1C"/>
<circle cx="107.70" cy="192.50" r="0.55" fill="#7E4A1C"/>
<circle cx="128.10" cy="206.60" r="0.55" fill="#7E4A1C"/>
<circle cx="148.60" cy="212.80" r="0.55" fill="#7E4A1C"/>
<polyline points="66.30,182.40 87.30,184.80 107.70,194.50 128.10,205.00 148.60,214.60" fill="none" stroke="#6E3F15" stroke-width="1.05" stroke-linejoin="round"/>
<circle cx="66.30" cy="182.40" r="0.55" fill="#6E3F15"/>
<circle cx="87.30" cy="184.80" r="0.55" fill="#6E3F15"/>
<circle cx="107.70" cy="194.50" r="0.55" fill="#6E3F15"/>
<circle cx="128.10" cy="205.00" r="0.55" fill="#6E3F15"/>
<circle cx="148.60" cy="214.60" r="0.55" fill="#6E3F15"/>
<polyline points="66.30,182.40 87.30,185.30 107.70,197.00 128.10,209.25 148.60,218.20" fill="none" stroke="#7D4A1C" stroke-width="1.05" stroke-linejoin="round"/>
<circle cx="66.30" cy="182.40" r="0.55" fill="#7D4A1C"/>
<circle cx="87.30" cy="185.30" r="0.55" fill="#7D4A1C"/>
<circle cx="107.70" cy="197.00" r="0.55" fill="#7D4A1C"/>
<circle cx="128.10" cy="209.25" r="0.55" fill="#7D4A1C"/>
<circle cx="148.60" cy="218.20" r="0.55" fill="#7D4A1C"/>
<polyline points="66.30,182.40 87.30,185.90 107.70,200.50 128.10,212.80 148.60,220.90" fill="none" stroke="#5E3410" stroke-width="1.05" stroke-linejoin="round"/>
<circle cx="66.30" cy="182.40" r="0.55" fill="#5E3410"/>
<circle cx="87.30" cy="185.90" r="0.55" fill="#5E3410"/>
<circle cx="107.70" cy="200.50" r="0.55" fill="#5E3410"/>
<circle cx="128.10" cy="212.80" r="0.55" fill="#5E3410"/>
<circle cx="148.60" cy="220.90" r="0.55" fill="#5E3410"/>
<polyline points="66.30,182.40 87.30,187.00 107.70,202.50 128.10,218.20 148.60,223.50" fill="none" stroke="#7A4A22" stroke-width="1.05" stroke-linejoin="round"/>
<circle cx="66.30" cy="182.40" r="0.55" fill="#7A4A22"/>
<circle cx="87.30" cy="187.00" r="0.55" fill="#7A4A22"/>
<circle cx="107.70" cy="202.50" r="0.55" fill="#7A4A22"/>
<circle cx="128.10" cy="218.20" r="0.55" fill="#7A4A22"/>
<circle cx="148.60" cy="223.50" r="0.55" fill="#7A4A22"/>
<polyline points="66.30,182.40 87.30,183.00 107.70,183.40 128.10,184.75 148.60,186.10" fill="none" stroke="#2E9A50" stroke-width="1.1" stroke-linejoin="round"/>
<circle cx="66.30" cy="182.40" r="0.55" fill="#2E9A50"/>
<circle cx="87.30" cy="183.00" r="0.55" fill="#2E9A50"/>
<circle cx="107.70" cy="183.40" r="0.55" fill="#2E9A50"/>
<circle cx="128.10" cy="184.75" r="0.55" fill="#2E9A50"/>
<circle cx="148.60" cy="186.10" r="0.55" fill="#2E9A50"/>
<polyline points="66.30,182.40 87.30,183.40 107.70,184.50 128.10,187.40 148.60,189.50" fill="none" stroke="#36AE36" stroke-width="1.1" stroke-linejoin="round"/>
<circle cx="66.30" cy="182.40" r="0.55" fill="#36AE36"/>
<circle cx="87.30" cy="183.40" r="0.55" fill="#36AE36"/>
<circle cx="107.70" cy="184.50" r="0.55" fill="#36AE36"/>
<circle cx="128.10" cy="187.40" r="0.55" fill="#36AE36"/>
<circle cx="148.60" cy="189.50" r="0.55" fill="#36AE36"/>
<polyline points="66.30,182.40 87.30,183.60 107.70,185.20 128.10,188.40 148.60,190.50" fill="none" stroke="#3DB83D" stroke-width="1.1" stroke-linejoin="round"/>
<circle cx="66.30" cy="182.40" r="0.55" fill="#3DB83D"/>
<circle cx="87.30" cy="183.60" r="0.55" fill="#3DB83D"/>
<circle cx="107.70" cy="185.20" r="0.55" fill="#3DB83D"/>
<circle cx="128.10" cy="188.40" r="0.55" fill="#3DB83D"/>
<circle cx="148.60" cy="190.50" r="0.55" fill="#3DB83D"/>
<polyline points="66.30,182.40 87.30,183.80 107.70,186.00 128.10,189.50 148.60,191.50" fill="none" stroke="#2F9A2F" stroke-width="1.1" stroke-linejoin="round"/>
<circle cx="66.30" cy="182.40" r="0.55" fill="#2F9A2F"/>
<circle cx="87.30" cy="183.80" r="0.55" fill="#2F9A2F"/>
<circle cx="107.70" cy="186.00" r="0.55" fill="#2F9A2F"/>
<circle cx="128.10" cy="189.50" r="0.55" fill="#2F9A2F"/>
<circle cx="148.60" cy="191.50" r="0.55" fill="#2F9A2F"/>
<polyline points="66.30,182.40 87.30,184.00 107.70,186.80 128.10,191.90 148.60,198.20" fill="none" stroke="#44BE44" stroke-width="1.1" stroke-linejoin="round"/>
<circle cx="66.30" cy="182.40" r="0.55" fill="#44BE44"/>
<circle cx="87.30" cy="184.00" r="0.55" fill="#44BE44"/>
<circle cx="107.70" cy="186.80" r="0.55" fill="#44BE44"/>
<circle cx="128.10" cy="191.90" r="0.55" fill="#44BE44"/>
<circle cx="148.60" cy="198.20" r="0.55" fill="#44BE44"/>
<line x1="66.30" y1="178.60" x2="66.30" y2="186.40" stroke="#2a2a2a" stroke-width="0.7"/>
<line x1="87.30" y1="180.70" x2="87.30" y2="191.40" stroke="#2a2a2a" stroke-width="0.7"/>
<line x1="107.70" y1="182.90" x2="107.70" y2="209.30" stroke="#2a2a2a" stroke-width="0.7"/>
<line x1="128.10" y1="184.00" x2="128.10" y2="192.50" stroke="#2a5a2a" stroke-width="0.7"/>
<line x1="128.10" y1="201.00" x2="128.10" y2="218.50" stroke="#3a2010" stroke-width="0.7"/>
<line x1="148.60" y1="185.80" x2="148.60" y2="198.50" stroke="#2a4a2a" stroke-width="0.7"/>
<line x1="148.60" y1="207.00" x2="148.60" y2="224.00" stroke="#3a2010" stroke-width="0.7"/>
<text x="57.00" y="159.90" font-size="5.4" text-anchor="start" font-weight="normal" fill="#7CC47C" stroke="#7CC47C" stroke-width="0.03">Non Responders</text>
<line x1="56.00" y1="163.50" x2="63.00" y2="163.50" stroke="#2F8A66" stroke-width="0.85"/>
<text x="66.20" y="165.50" font-size="5.6" text-anchor="start" font-weight="normal" fill="#262626" stroke="#262626" stroke-width="0.1">AML3</text>
<line x1="56.00" y1="169.50" x2="63.00" y2="169.50" stroke="#4A9A4A" stroke-width="0.85"/>
<text x="66.20" y="171.30" font-size="5.6" text-anchor="start" font-weight="normal" fill="#262626" stroke="#262626" stroke-width="0.1">AML5</text>
<line x1="56.00" y1="175.50" x2="63.00" y2="175.50" stroke="#55B070" stroke-width="0.85"/>
<text x="66.20" y="177.00" font-size="5.6" text-anchor="start" font-weight="normal" fill="#262626" stroke="#262626" stroke-width="0.1">AML9</text>
<line x1="88.40" y1="163.50" x2="95.40" y2="163.50" stroke="#2E6E40" stroke-width="0.85"/>
<text x="97.10" y="165.50" font-size="5.6" text-anchor="start" font-weight="normal" fill="#262626" stroke="#262626" stroke-width="0.1">AML10</text>
<line x1="88.40" y1="169.50" x2="95.40" y2="169.50" stroke="#3E7E3E" stroke-width="0.85"/>
<text x="97.10" y="171.30" font-size="5.6" text-anchor="start" font-weight="normal" fill="#262626" stroke="#262626" stroke-width="0.1">AML12</text>
<text x="57.00" y="215.40" font-size="5.4" text-anchor="start" font-weight="normal" fill="#DBA272" stroke="#DBA272" stroke-width="0.03">Responders</text>
<line x1="57.40" y1="219.50" x2="64.40" y2="219.50" stroke="#4a3020" stroke-width="0.85"/>
<text x="66.20" y="221.50" font-size="5.6" text-anchor="start" font-weight="normal" fill="#262626" stroke="#262626" stroke-width="0.1">AML1</text>
<line x1="57.40" y1="225.50" x2="64.40" y2="225.50" stroke="#4a3020" stroke-width="0.85"/>
<text x="66.20" y="227.30" font-size="5.6" text-anchor="start" font-weight="normal" fill="#262626" stroke="#262626" stroke-width="0.1">AML4</text>
<line x1="57.40" y1="231.50" x2="64.40" y2="231.50" stroke="#4a3020" stroke-width="0.85"/>
<text x="66.20" y="233.00" font-size="5.6" text-anchor="start" font-weight="normal" fill="#262626" stroke="#262626" stroke-width="0.1">AML6</text>
<line x1="57.40" y1="236.50" x2="64.40" y2="236.50" stroke="#4a3020" stroke-width="0.85"/>
<text x="66.20" y="238.80" font-size="5.6" text-anchor="start" font-weight="normal" fill="#262626" stroke="#262626" stroke-width="0.1">AML7</text>
<line x1="89.00" y1="219.50" x2="96.00" y2="219.50" stroke="#4a3020" stroke-width="0.85"/>
<text x="97.80" y="221.50" font-size="5.6" text-anchor="start" font-weight="normal" fill="#262626" stroke="#262626" stroke-width="0.1">AML8</text>
<line x1="89.00" y1="225.50" x2="96.00" y2="225.50" stroke="#4a3020" stroke-width="0.85"/>
<text x="97.80" y="227.30" font-size="5.6" text-anchor="start" font-weight="normal" fill="#262626" stroke="#262626" stroke-width="0.1">AML11</text>
<line x1="89.00" y1="231.50" x2="96.00" y2="231.50" stroke="#4a3020" stroke-width="0.85"/>
<text x="97.80" y="233.00" font-size="5.6" text-anchor="start" font-weight="normal" fill="#262626" stroke="#262626" stroke-width="0.1">AML13</text>
<text x="19.70" y="204.30" font-size="7.2" text-anchor="middle" font-weight="normal" fill="#262626" stroke="#262626" stroke-width="0.22" transform="rotate(-90 19.70 204.30)" textLength="33.6" lengthAdjust="spacingAndGlyphs">% viable cells</text>
<text x="29.60" y="203.25" font-size="7.2" text-anchor="middle" font-weight="normal" fill="#262626" stroke="#262626" stroke-width="0.22" transform="rotate(-90 29.60 203.25)" textLength="53.9" lengthAdjust="spacingAndGlyphs">norm. to IACS-010759</text>
<text x="107.10" y="270.90" font-size="6.9" text-anchor="middle" font-weight="bold" fill="#333" stroke="#333" stroke-width="0.1" textLength="34.8" lengthAdjust="spacingAndGlyphs">BAY-876 (nM)</text>
<text x="167.90" y="153.10" font-size="10.6" text-anchor="start" font-weight="bold" fill="#111" stroke="#111" stroke-width="0.1">E</text>
<line x1="216.90" y1="165.62" x2="216.90" y2="240.95" stroke="#22223a" stroke-width="1.15"/>
<line x1="213.70" y1="240.50" x2="216.90" y2="240.50" stroke="#22223a" stroke-width="0.85"/>
<text x="210.90" y="243.00" font-size="6.5" text-anchor="end" font-weight="normal" fill="#333" stroke="#333" stroke-width="0.08" textLength="11.39" lengthAdjust="spacingAndGlyphs">0.00</text>
<line x1="213.70" y1="225.93" x2="216.90" y2="225.93" stroke="#22223a" stroke-width="0.85"/>
<text x="210.90" y="228.43" font-size="6.5" text-anchor="end" font-weight="normal" fill="#333" stroke="#333" stroke-width="0.08" textLength="11.39" lengthAdjust="spacingAndGlyphs">0.25</text>
<line x1="213.70" y1="211.35" x2="216.90" y2="211.35" stroke="#22223a" stroke-width="0.85"/>
<text x="210.90" y="213.85" font-size="6.5" text-anchor="end" font-weight="normal" fill="#333" stroke="#333" stroke-width="0.08" textLength="11.39" lengthAdjust="spacingAndGlyphs">0.50</text>
<line x1="213.70" y1="196.78" x2="216.90" y2="196.78" stroke="#22223a" stroke-width="0.85"/>
<text x="210.90" y="199.28" font-size="6.5" text-anchor="end" font-weight="normal" fill="#333" stroke="#333" stroke-width="0.08" textLength="11.39" lengthAdjust="spacingAndGlyphs">0.75</text>
<line x1="213.70" y1="182.20" x2="216.90" y2="182.20" stroke="#22223a" stroke-width="0.85"/>
<text x="210.90" y="184.70" font-size="6.5" text-anchor="end" font-weight="normal" fill="#333" stroke="#333" stroke-width="0.08" textLength="11.39" lengthAdjust="spacingAndGlyphs">1.00</text>
<line x1="213.70" y1="167.62" x2="216.90" y2="167.62" stroke="#22223a" stroke-width="0.85"/>
<text x="210.90" y="170.12" font-size="6.5" text-anchor="end" font-weight="normal" fill="#333" stroke="#333" stroke-width="0.08" textLength="11.39" lengthAdjust="spacingAndGlyphs">1.25</text>
<line x1="216.90" y1="240.50" x2="326.10" y2="240.50" stroke="#22223a" stroke-width="1.0"/>
<line x1="230.50" y1="240.50" x2="230.50" y2="243.70" stroke="#22223a" stroke-width="0.85"/>
<text x="233.10" y="250.20" font-size="6.1" text-anchor="end" font-weight="normal" fill="#2a2a2a" stroke="#2a2a2a" stroke-width="0.04" transform="rotate(-45 233.10 250.20)" textLength="3.17" lengthAdjust="spacingAndGlyphs">0</text>
<line x1="254.40" y1="240.50" x2="254.40" y2="243.70" stroke="#22223a" stroke-width="0.85"/>
<text x="257.00" y="250.20" font-size="6.1" text-anchor="end" font-weight="normal" fill="#2a2a2a" stroke="#2a2a2a" stroke-width="0.04" transform="rotate(-45 257.00 250.20)" textLength="3.17" lengthAdjust="spacingAndGlyphs">1</text>
<line x1="278.00" y1="240.50" x2="278.00" y2="243.70" stroke="#22223a" stroke-width="0.85"/>
<text x="280.60" y="250.20" font-size="6.1" text-anchor="end" font-weight="normal" fill="#2a2a2a" stroke="#2a2a2a" stroke-width="0.04" transform="rotate(-45 280.60 250.20)" textLength="6.34" lengthAdjust="spacingAndGlyphs">10</text>
<line x1="301.50" y1="240.50" x2="301.50" y2="243.70" stroke="#22223a" stroke-width="0.85"/>
<text x="304.10" y="250.20" font-size="6.1" text-anchor="end" font-weight="normal" fill="#2a2a2a" stroke="#2a2a2a" stroke-width="0.04" transform="rotate(-45 304.10 250.20)" textLength="9.51" lengthAdjust="spacingAndGlyphs">100</text>
<line x1="325.00" y1="240.50" x2="325.00" y2="243.70" stroke="#22223a" stroke-width="0.85"/>
<text x="327.60" y="250.20" font-size="6.1" text-anchor="end" font-weight="normal" fill="#2a2a2a" stroke="#2a2a2a" stroke-width="0.04" transform="rotate(-45 327.60 250.20)" textLength="12.68" lengthAdjust="spacingAndGlyphs">1000</text>
<polygon points="229.00,182.00 253.20,182.30 277.00,190.00 301.25,205.00 325.00,207.60 325.00,220.80 301.25,215.00 277.00,201.00 253.20,186.25 229.00,182.00" fill="#E9B27C" stroke="#8A5424" stroke-width="0.6" fill-opacity="1" stroke-linejoin="round"/>
<polygon points="229.00,182.00 253.20,182.60 277.00,188.80 301.25,197.30 325.00,200.00 325.00,204.00 301.25,200.90 277.00,191.20 253.20,183.40 229.00,182.00" fill="#DEE1EA" stroke="#4A5A78" stroke-width="0.6" fill-opacity="1" stroke-linejoin="round"/>
<polygon points="229.00,182.00 253.20,181.70 277.00,183.10 301.25,184.20 325.00,186.00 325.00,195.00 301.25,191.20 277.00,186.20 253.20,183.30 229.00,182.00" fill="#A9D9A1" stroke="#3A8A3A" stroke-width="0.6" fill-opacity="1" stroke-linejoin="round"/>
<circle cx="229.00" cy="182.00" r="0.6" fill="#3a3a3a"/>
<circle cx="253.20" cy="184.50" r="0.6" fill="#3a3a3a"/>
<circle cx="253.20" cy="187.50" r="0.6" fill="#3a3a3a"/>
<circle cx="277.00" cy="188.00" r="0.6" fill="#3a3a3a"/>
<circle cx="277.00" cy="191.00" r="0.6" fill="#3a3a3a"/>
<circle cx="277.00" cy="195.00" r="0.6" fill="#3a3a3a"/>
<circle cx="277.00" cy="199.00" r="0.6" fill="#3a3a3a"/>
<circle cx="277.00" cy="205.40" r="0.6" fill="#3a3a3a"/>
<circle cx="301.25" cy="197.60" r="0.6" fill="#3a3a3a"/>
<circle cx="301.25" cy="200.50" r="0.6" fill="#3a3a3a"/>
<circle cx="301.25" cy="206.00" r="0.6" fill="#3a3a3a"/>
<circle cx="301.25" cy="209.50" r="0.6" fill="#3a3a3a"/>
<circle cx="301.25" cy="213.00" r="0.6" fill="#3a3a3a"/>
<circle cx="301.25" cy="218.20" r="0.6" fill="#3a3a3a"/>
<circle cx="325.00" cy="200.50" r="0.6" fill="#3a3a3a"/>
<circle cx="325.00" cy="203.50" r="0.6" fill="#3a3a3a"/>
<circle cx="325.00" cy="208.50" r="0.6" fill="#3a3a3a"/>
<circle cx="325.00" cy="211.00" r="0.6" fill="#3a3a3a"/>
<circle cx="325.00" cy="213.50" r="0.6" fill="#3a3a3a"/>
<circle cx="325.00" cy="216.00" r="0.6" fill="#3a3a3a"/>
<circle cx="325.00" cy="219.00" r="0.6" fill="#3a3a3a"/>
<circle cx="325.00" cy="222.50" r="0.6" fill="#3a3a3a"/>
<line x1="229.00" y1="181.00" x2="229.00" y2="183.00" stroke="#555" stroke-width="0.45"/>
<line x1="253.20" y1="180.50" x2="253.20" y2="187.00" stroke="#555" stroke-width="0.45"/>
<line x1="277.00" y1="183.00" x2="277.00" y2="201.00" stroke="#555" stroke-width="0.45"/>
<line x1="301.25" y1="196.00" x2="301.25" y2="216.00" stroke="#555" stroke-width="0.45"/>
<line x1="325.00" y1="199.00" x2="325.00" y2="222.00" stroke="#555" stroke-width="0.45"/>
<rect x="222.00" y="220.40" width="1.60" height="0.90" fill="#444"/>
<text x="224.60" y="222.80" font-size="5.6" text-anchor="start" font-weight="normal" fill="#333" stroke="#333" stroke-width="0.06">CD34<tspan font-size="3.6" dy="-2.1">+</tspan><tspan dy="2.1"> Bone marrow</tspan></text>
<rect x="222.00" y="227.10" width="1.60" height="0.90" fill="#3a6a3a"/>
<text x="224.60" y="229.50" font-size="5.6" text-anchor="start" font-weight="normal" fill="#333" stroke="#333" stroke-width="0.06">Non Responder</text>
<rect x="222.00" y="234.90" width="1.60" height="0.90" fill="#6a4a2a"/>
<text x="224.60" y="237.30" font-size="5.6" text-anchor="start" font-weight="normal" fill="#333" stroke="#333" stroke-width="0.06">Responder</text>
<text x="183.90" y="204.30" font-size="7.2" text-anchor="middle" font-weight="normal" fill="#262626" stroke="#262626" stroke-width="0.22" transform="rotate(-90 183.90 204.30)" textLength="33.6" lengthAdjust="spacingAndGlyphs">% viable cells</text>
<text x="194.70" y="203.25" font-size="7.2" text-anchor="middle" font-weight="normal" fill="#262626" stroke="#262626" stroke-width="0.22" transform="rotate(-90 194.70 203.25)" textLength="53.9" lengthAdjust="spacingAndGlyphs">norm. to IACS-010759</text>
<text x="271.00" y="271.10" font-size="6.9" text-anchor="middle" font-weight="bold" fill="#333" stroke="#333" stroke-width="0.1" textLength="34.8" lengthAdjust="spacingAndGlyphs">BAY-876 (nM)</text>
<text x="344.60" y="153.10" font-size="10.6" text-anchor="start" font-weight="bold" fill="#111" stroke="#111" stroke-width="0.1">F</text>
<line x1="390.30" y1="167.65" x2="390.30" y2="240.85" stroke="#22223a" stroke-width="1.15"/>
<line x1="387.10" y1="240.40" x2="390.30" y2="240.40" stroke="#22223a" stroke-width="0.85"/>
<text x="383.90" y="242.90" font-size="6.5" text-anchor="end" font-weight="normal" fill="#333" stroke="#333" stroke-width="0.08" textLength="11.39" lengthAdjust="spacingAndGlyphs">0.00</text>
<line x1="387.10" y1="226.25" x2="390.30" y2="226.25" stroke="#22223a" stroke-width="0.85"/>
<text x="383.90" y="228.75" font-size="6.5" text-anchor="end" font-weight="normal" fill="#333" stroke="#333" stroke-width="0.08" textLength="11.39" lengthAdjust="spacingAndGlyphs">0.25</text>
<line x1="387.10" y1="212.10" x2="390.30" y2="212.10" stroke="#22223a" stroke-width="0.85"/>
<text x="383.90" y="214.60" font-size="6.5" text-anchor="end" font-weight="normal" fill="#333" stroke="#333" stroke-width="0.08" textLength="11.39" lengthAdjust="spacingAndGlyphs">0.50</text>
<line x1="387.10" y1="197.95" x2="390.30" y2="197.95" stroke="#22223a" stroke-width="0.85"/>
<text x="383.90" y="200.45" font-size="6.5" text-anchor="end" font-weight="normal" fill="#333" stroke="#333" stroke-width="0.08" textLength="11.39" lengthAdjust="spacingAndGlyphs">0.75</text>
<line x1="387.10" y1="183.80" x2="390.30" y2="183.80" stroke="#22223a" stroke-width="0.85"/>
<text x="383.90" y="186.30" font-size="6.5" text-anchor="end" font-weight="normal" fill="#333" stroke="#333" stroke-width="0.08" textLength="11.39" lengthAdjust="spacingAndGlyphs">1.00</text>
<line x1="387.10" y1="169.65" x2="390.30" y2="169.65" stroke="#22223a" stroke-width="0.85"/>
<text x="383.90" y="172.15" font-size="6.5" text-anchor="end" font-weight="normal" fill="#333" stroke="#333" stroke-width="0.08" textLength="11.39" lengthAdjust="spacingAndGlyphs">1.25</text>
<line x1="390.30" y1="240.40" x2="506.70" y2="240.40" stroke="#22223a" stroke-width="1.0"/>
<line x1="401.60" y1="240.40" x2="401.60" y2="243.60" stroke="#22223a" stroke-width="0.85"/>
<text x="404.20" y="250.10" font-size="6.1" text-anchor="end" font-weight="normal" fill="#2a2a2a" stroke="#2a2a2a" stroke-width="0.04" transform="rotate(-45 404.20 250.10)" textLength="3.17" lengthAdjust="spacingAndGlyphs">0</text>
<line x1="425.80" y1="240.40" x2="425.80" y2="243.60" stroke="#22223a" stroke-width="0.85"/>
<text x="428.40" y="250.10" font-size="6.1" text-anchor="end" font-weight="normal" fill="#2a2a2a" stroke="#2a2a2a" stroke-width="0.04" transform="rotate(-45 428.40 250.10)" textLength="3.17" lengthAdjust="spacingAndGlyphs">1</text>
<line x1="449.50" y1="240.40" x2="449.50" y2="243.60" stroke="#22223a" stroke-width="0.85"/>
<text x="452.10" y="250.10" font-size="6.1" text-anchor="end" font-weight="normal" fill="#2a2a2a" stroke="#2a2a2a" stroke-width="0.04" transform="rotate(-45 452.10 250.10)" textLength="6.34" lengthAdjust="spacingAndGlyphs">10</text>
<line x1="473.00" y1="240.40" x2="473.00" y2="243.60" stroke="#22223a" stroke-width="0.85"/>
<text x="475.60" y="250.10" font-size="6.1" text-anchor="end" font-weight="normal" fill="#2a2a2a" stroke="#2a2a2a" stroke-width="0.04" transform="rotate(-45 475.60 250.10)" textLength="9.51" lengthAdjust="spacingAndGlyphs">100</text>
<line x1="497.20" y1="240.40" x2="497.20" y2="243.60" stroke="#22223a" stroke-width="0.85"/>
<text x="499.80" y="250.10" font-size="6.1" text-anchor="end" font-weight="normal" fill="#2a2a2a" stroke="#2a2a2a" stroke-width="0.04" transform="rotate(-45 499.80 250.10)" textLength="12.68" lengthAdjust="spacingAndGlyphs">1000</text>
<line x1="393.50" y1="183.90" x2="399.80" y2="183.90" stroke="#4A7090" stroke-width="1.5"/>
<line x1="403.00" y1="183.90" x2="408.80" y2="183.90" stroke="#C04A5A" stroke-width="1.5"/>
<line x1="417.80" y1="186.50" x2="422.60" y2="185.60" stroke="#1E2A3A" stroke-width="1.4"/>
<line x1="429.50" y1="183.60" x2="429.50" y2="189.90" stroke="#4A2834" stroke-width="0.9"/>
<line x1="427.70" y1="183.60" x2="431.30" y2="183.60" stroke="#4A2834" stroke-width="0.9"/>
<line x1="427.70" y1="189.90" x2="431.30" y2="189.90" stroke="#4A2834" stroke-width="0.9"/>
<line x1="426.10" y1="185.30" x2="432.90" y2="185.30" stroke="#4A2834" stroke-width="0.95"/>
<circle cx="428.50" cy="184.50" r="0.65" fill="#C83A50"/>
<circle cx="430.50" cy="186.50" r="0.65" fill="#C83A50"/>
<circle cx="429.50" cy="188.50" r="0.65" fill="#C83A50"/>
<line x1="444.50" y1="191.00" x2="444.50" y2="206.20" stroke="#1E2A3A" stroke-width="0.9"/>
<line x1="442.70" y1="191.00" x2="446.30" y2="191.00" stroke="#1E2A3A" stroke-width="0.9"/>
<line x1="442.70" y1="206.20" x2="446.30" y2="206.20" stroke="#1E2A3A" stroke-width="0.9"/>
<line x1="441.10" y1="198.90" x2="447.90" y2="198.90" stroke="#1E2A3A" stroke-width="0.95"/>
<circle cx="443.50" cy="192.50" r="0.65" fill="#3A6A8A"/>
<circle cx="445.50" cy="196.00" r="0.65" fill="#3A6A8A"/>
<circle cx="444.50" cy="201.00" r="0.65" fill="#3A6A8A"/>
<circle cx="443.20" cy="205.00" r="0.65" fill="#3A6A8A"/>
<line x1="453.50" y1="184.60" x2="453.50" y2="197.90" stroke="#4A2834" stroke-width="0.9"/>
<line x1="451.70" y1="184.60" x2="455.30" y2="184.60" stroke="#4A2834" stroke-width="0.9"/>
<line x1="451.70" y1="197.90" x2="455.30" y2="197.90" stroke="#4A2834" stroke-width="0.9"/>
<line x1="450.10" y1="191.20" x2="456.90" y2="191.20" stroke="#4A2834" stroke-width="0.95"/>
<circle cx="452.50" cy="187.00" r="0.65" fill="#C83A50"/>
<circle cx="454.50" cy="201.20" r="0.65" fill="#C83A50"/>
<line x1="468.50" y1="206.50" x2="468.50" y2="215.00" stroke="#1E2A3A" stroke-width="0.9"/>
<line x1="466.70" y1="206.50" x2="470.30" y2="206.50" stroke="#1E2A3A" stroke-width="0.9"/>
<line x1="466.70" y1="215.00" x2="470.30" y2="215.00" stroke="#1E2A3A" stroke-width="0.9"/>
<line x1="465.10" y1="211.30" x2="471.90" y2="211.30" stroke="#1E2A3A" stroke-width="0.95"/>
<circle cx="467.50" cy="208.00" r="0.65" fill="#3A6A8A"/>
<circle cx="469.50" cy="209.50" r="0.65" fill="#3A6A8A"/>
<circle cx="468.50" cy="213.00" r="0.65" fill="#3A6A8A"/>
<circle cx="467.20" cy="219.40" r="0.65" fill="#3A6A8A"/>
<line x1="477.50" y1="185.60" x2="477.50" y2="209.40" stroke="#4A2834" stroke-width="0.9"/>
<line x1="475.70" y1="185.60" x2="479.30" y2="185.60" stroke="#4A2834" stroke-width="0.9"/>
<line x1="475.70" y1="209.40" x2="479.30" y2="209.40" stroke="#4A2834" stroke-width="0.9"/>
<line x1="474.10" y1="197.40" x2="480.90" y2="197.40" stroke="#4A2834" stroke-width="0.95"/>
<circle cx="476.50" cy="213.80" r="0.65" fill="#C83A50"/>
<line x1="492.50" y1="208.60" x2="492.50" y2="221.00" stroke="#1E2A3A" stroke-width="0.9"/>
<line x1="490.70" y1="208.60" x2="494.30" y2="208.60" stroke="#1E2A3A" stroke-width="0.9"/>
<line x1="490.70" y1="221.00" x2="494.30" y2="221.00" stroke="#1E2A3A" stroke-width="0.9"/>
<line x1="489.10" y1="215.00" x2="495.90" y2="215.00" stroke="#1E2A3A" stroke-width="0.95"/>
<circle cx="491.50" cy="218.50" r="0.65" fill="#3A6A8A"/>
<circle cx="493.50" cy="223.70" r="0.65" fill="#3A6A8A"/>
<line x1="501.50" y1="187.70" x2="501.50" y2="213.80" stroke="#4A2834" stroke-width="0.9"/>
<line x1="499.70" y1="187.70" x2="503.30" y2="187.70" stroke="#4A2834" stroke-width="0.9"/>
<line x1="499.70" y1="213.80" x2="503.30" y2="213.80" stroke="#4A2834" stroke-width="0.9"/>
<line x1="498.10" y1="200.90" x2="504.90" y2="200.90" stroke="#4A2834" stroke-width="0.95"/>
<circle cx="500.50" cy="218.30" r="0.65" fill="#C83A50"/>
<line x1="467.80" y1="174.40" x2="477.70" y2="174.40" stroke="#222" stroke-width="0.85"/>
<line x1="492.10" y1="174.40" x2="501.40" y2="174.40" stroke="#222" stroke-width="0.85"/>
<text x="472.80" y="173.00" font-size="6.5" text-anchor="middle" font-weight="bold" fill="#262626" stroke="#262626" stroke-width="0.1">*</text>
<text x="496.80" y="173.00" font-size="6.5" text-anchor="middle" font-weight="bold" fill="#262626" stroke="#262626" stroke-width="0.1">*</text>
<circle cx="395.40" cy="224.90" r="0.85" fill="#2F4A5A"/>
<circle cx="395.40" cy="233.50" r="0.85" fill="#8A2A3A"/>
<text x="398.90" y="226.80" font-size="5.5" text-anchor="start" font-weight="normal" fill="#3a3a3a" stroke="#3a3a3a" stroke-width="0.06" textLength="39.6" lengthAdjust="spacingAndGlyphs" font-style="italic">RUNX1 mutated</text>
<text x="398.90" y="235.40" font-size="5.5" text-anchor="start" font-weight="normal" fill="#3a3a3a" stroke="#3a3a3a" stroke-width="0.06" textLength="50.0" lengthAdjust="spacingAndGlyphs" font-style="italic">non-RUNX1 mutated</text>
<text x="358.00" y="204.30" font-size="7.2" text-anchor="middle" font-weight="normal" fill="#262626" stroke="#262626" stroke-width="0.22" transform="rotate(-90 358.00 204.30)" textLength="33.6" lengthAdjust="spacingAndGlyphs">% viable cells</text>
<text x="368.00" y="203.25" font-size="7.2" text-anchor="middle" font-weight="normal" fill="#262626" stroke="#262626" stroke-width="0.22" transform="rotate(-90 368.00 203.25)" textLength="53.9" lengthAdjust="spacingAndGlyphs">norm. to IACS-010759</text>
<text x="449.00" y="271.30" font-size="6.9" text-anchor="middle" font-weight="bold" fill="#333" stroke="#333" stroke-width="0.1" textLength="35.6" lengthAdjust="spacingAndGlyphs">BAY-876 (nM)</text>
<rect x="0.5" y="0.5" width="519" height="279" fill="none" stroke="#3c3c3c" stroke-width="1"/>
<line x1="0" y1="279.1" x2="520" y2="279.1" stroke="#3c3c3c" stroke-width="1.6"/>
</svg></div></body></html>
